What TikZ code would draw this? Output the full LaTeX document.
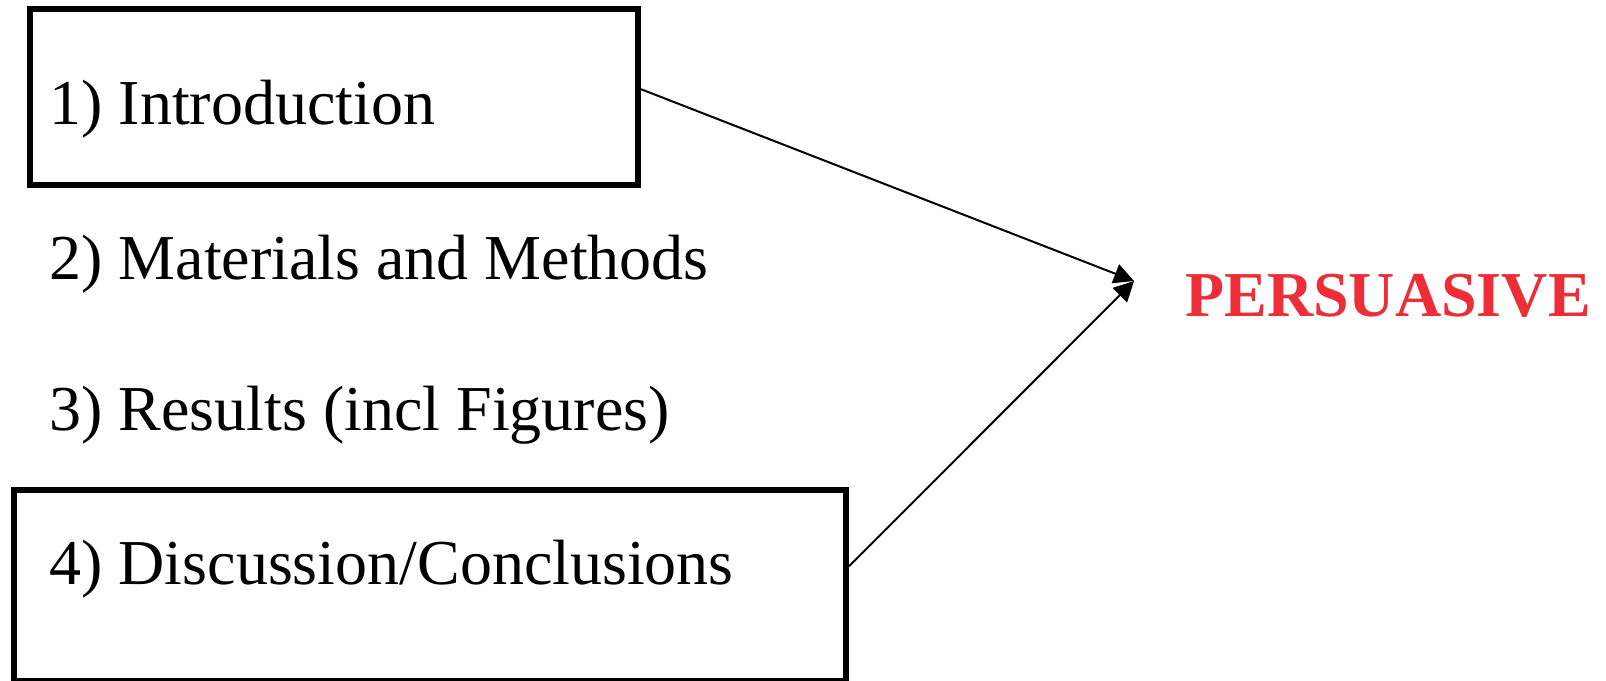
\documentclass[tikz,border=0pt]{standalone}
\usepackage{fontspec}
\setmainfont{Liberation Serif}
\usetikzlibrary{arrows.meta}
\usetikzlibrary{calc}
\definecolor{persred}{RGB}{237,46,56}
\tikzset{
  secbox/.style={draw=black, line width=3pt, inner sep=0pt},
  sectext/.style={anchor=base west, inner sep=0pt, font=\fontsize{32}{38}\selectfont},
  persarrow/.style={-{Triangle[length=10pt,width=10pt]}, line width=1pt}
}

\begin{document}
\begin{tikzpicture}[x=0.5pt,y=-0.5pt]
\useasboundingbox (0,0) rectangle (1606,680);

% the two framed sections
\node[secbox, minimum width=304pt, minimum height=88pt] (intro) at (334,97.4) {};
\node[secbox, minimum width=416pt, minimum height=95.7pt] (disc) at (430.1,585.3) {};

% section names
\node[sectext] (introtext) at (49,124.5) {1) Introduction};
\node[sectext] (methods) at (49,279) {2) Materials and Methods};
\node[sectext] (results) at (49,430) {3) Results (incl Figures)};
\node[sectext] (disctext) at (49,584) {4) Discussion/Conclusions};

\node[anchor=base west, inner sep=0pt, text=persred, font=\bfseries\fontsize{32}{38}\selectfont] (persuade) at (1185,316) {PERSUASIVE};
\coordinate (meet) at (1134,281);

%\draw[persarrow] (intro.east) -- (meet);
\draw[persarrow] ($(intro.north east)!0.455!(intro.south east)$) -- (meet);
\draw[persarrow] ($(disc.north east)!0.403!(disc.south east)$) -- (meet);
\end{tikzpicture}
\end{document}
